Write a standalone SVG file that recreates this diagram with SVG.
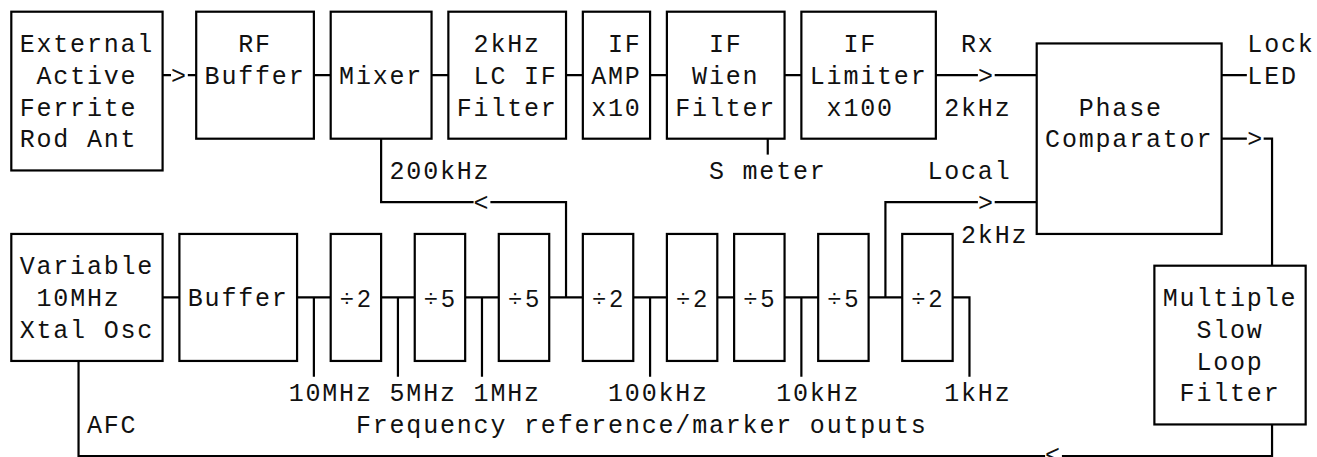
<svg xmlns="http://www.w3.org/2000/svg" width="1317" height="457" viewBox="0 0 1317 457">
<style>
.box{fill:#fff;stroke:#000;stroke-width:2.2}
.ln{fill:none;stroke:#000;stroke-width:2.2}
.t{font-family:"Liberation Mono","DejaVu Sans Mono",monospace;font-size:25px;letter-spacing:1.81px;fill:#111}
.d{font-family:"Liberation Sans","DejaVu Sans",sans-serif;font-size:24px;fill:#111}
</style>
<rect width="1317" height="457" fill="#fff"/>
<g id="connectors">
<path class="ln" d="M162.59 75.2H171 M187.81 75.2H196.21 M313.88 75.2H330.69 M431.55 75.2H448.36 M566.03 75.2H582.84 M650.08 75.2H666.89 M784.56 75.2H801.37 M935.85 75.2H977.88 M994.69 75.2H1036.71 M1221.62 75.2H1246.84"/>
<path class="ln" d="M1221.62 138.7H1246.84 M1263.65 138.7H1272.05V265.7"/>
<path class="ln" d="M767.75 138.7V154.6"/>
<path class="ln" d="M381.12 138.7V202.2H473.58 M490.39 202.2H566.03V297.45"/>
<path class="ln" d="M162.59 297.45H179.4 M297.07 297.45H330.69 M381.12 297.45H414.74 M465.17 297.45H498.79 M549.22 297.45H582.84 M633.27 297.45H666.89 M717.32 297.45H734.13 M784.56 297.45H818.18 M868.61 297.45H902.23 M952.66 297.45H969.47V376.8"/>
<path class="ln" d="M313.88 297.45V376.8 M397.93 297.45V376.8 M481.98 297.45V376.8 M650.08 297.45V376.8 M801.37 297.45V376.8"/>
<path class="ln" d="M885.42 297.45V202.2H977.88 M994.69 202.2H1036.71"/>
<path class="ln" d="M1272.05 424.45V456.2H1061.92 M1045.11 456.2H78.54V360.95"/>
<text class="t" x="171" y="83.8">&gt;</text>
<text class="t" x="977.88" y="83.8">&gt;</text>
<text class="t" x="1247.33" y="147.3">&gt;</text>
<text class="t" x="473.58" y="210.8">&lt;</text>
<text class="t" x="977.88" y="210.8">&gt;</text>
<text class="t" x="1045.11" y="462.5">&lt;</text>
</g>
<g id="ant">
<rect class="box" x="11.3" y="11.7" width="151.29" height="158.75"/>
<text class="t" x="19.7" y="52.05">External</text>
<text class="t" x="36.52" y="83.8">Active</text>
<text class="t" x="19.7" y="115.55">Ferrite</text>
<text class="t" x="19.7" y="147.3">Rod Ant</text>
</g>
<g id="rfbuf">
<rect class="box" x="196.21" y="11.7" width="117.67" height="127"/>
<text class="t" x="238.24" y="52.05">RF</text>
<text class="t" x="204.62" y="83.8">Buffer</text>
</g>
<g id="mixer">
<rect class="box" x="330.69" y="11.7" width="100.86" height="127"/>
<text class="t" x="339.1" y="83.8">Mixer</text>
</g>
<g id="lcfilter">
<rect class="box" x="448.36" y="11.7" width="117.67" height="127"/>
<text class="t" x="473.58" y="52.05">2kHz</text>
<text class="t" x="473.58" y="83.8">LC IF</text>
<text class="t" x="456.77" y="115.55">Filter</text>
</g>
<g id="ifamp">
<rect class="box" x="582.84" y="11.7" width="67.24" height="127"/>
<text class="t" x="608.06" y="52.05">IF</text>
<text class="t" x="591.25" y="83.8">AMP</text>
<text class="t" x="591.25" y="115.55">x10</text>
</g>
<g id="wien">
<rect class="box" x="666.89" y="11.7" width="117.67" height="127"/>
<text class="t" x="708.92" y="52.05">IF</text>
<text class="t" x="692.11" y="83.8">Wien</text>
<text class="t" x="675.3" y="115.55">Filter</text>
</g>
<g id="limiter">
<rect class="box" x="801.37" y="11.7" width="134.48" height="127"/>
<text class="t" x="843.4" y="52.05">IF</text>
<text class="t" x="809.78" y="83.8">Limiter</text>
<text class="t" x="826.59" y="115.55">x100</text>
</g>
<g id="phase">
<rect class="box" x="1036.71" y="43.45" width="184.91" height="190.5"/>
<text class="t" x="1078.73" y="115.55">Phase</text>
<text class="t" x="1045.11" y="147.3">Comparator</text>
</g>
<g id="vxo">
<rect class="box" x="11.3" y="233.95" width="151.29" height="127"/>
<text class="t" x="19.7" y="274.3">Variable</text>
<text class="t" x="36.52" y="306.05">10MHz</text>
<text class="t" x="19.7" y="337.8">Xtal Osc</text>
</g>
<g id="buffer">
<rect class="box" x="179.4" y="233.95" width="117.67" height="127"/>
<text class="t" x="187.81" y="306.05">Buffer</text>
</g>
<g id="div1">
<rect class="box" x="330.69" y="233.95" width="50.43" height="127"/>
<text class="d" y="306.6"><tspan x="340.3">÷</tspan><tspan x="357.3">2</tspan></text>
</g>
<g id="div2">
<rect class="box" x="414.74" y="233.95" width="50.43" height="127"/>
<text class="d" y="306.6"><tspan x="424.35">÷</tspan><tspan x="441.35">5</tspan></text>
</g>
<g id="div3">
<rect class="box" x="498.79" y="233.95" width="50.43" height="127"/>
<text class="d" y="306.6"><tspan x="508.4">÷</tspan><tspan x="525.4">5</tspan></text>
</g>
<g id="div4">
<rect class="box" x="582.84" y="233.95" width="50.43" height="127"/>
<text class="d" y="306.6"><tspan x="592.45">÷</tspan><tspan x="609.45">2</tspan></text>
</g>
<g id="div5">
<rect class="box" x="666.89" y="233.95" width="50.43" height="127"/>
<text class="d" y="306.6"><tspan x="676.5">÷</tspan><tspan x="693.5">2</tspan></text>
</g>
<g id="div6">
<rect class="box" x="734.13" y="233.95" width="50.43" height="127"/>
<text class="d" y="306.6"><tspan x="743.74">÷</tspan><tspan x="760.74">5</tspan></text>
</g>
<g id="div7">
<rect class="box" x="818.18" y="233.95" width="50.43" height="127"/>
<text class="d" y="306.6"><tspan x="827.79">÷</tspan><tspan x="844.79">5</tspan></text>
</g>
<g id="div8">
<rect class="box" x="902.23" y="233.95" width="50.43" height="127"/>
<text class="d" y="306.6"><tspan x="911.84">÷</tspan><tspan x="928.84">2</tspan></text>
</g>
<g id="loopfilter">
<rect class="box" x="1154.38" y="265.7" width="151.29" height="158.75"/>
<text class="t" x="1162.78" y="306.05">Multiple</text>
<text class="t" x="1196.4" y="337.8">Slow</text>
<text class="t" x="1196.4" y="369.55">Loop</text>
<text class="t" x="1179.59" y="401.3">Filter</text>
</g>
<g id="labels">
<text class="t" x="961.07" y="52.05">Rx</text>
<text class="t" x="944.26" y="115.55">2kHz</text>
<text class="t" x="1247.33" y="52.05">Lock</text>
<text class="t" x="1247.33" y="83.8">LED</text>
<text class="t" x="389.53" y="179.05">200kHz</text>
<text class="t" x="708.92" y="179.05">S meter</text>
<text class="t" x="927.45" y="179.05">Local</text>
<text class="t" x="961.07" y="242.55">2kHz</text>
<text class="t" x="288.67" y="401.3">10MHz</text>
<text class="t" x="389.53" y="401.3">5MHz</text>
<text class="t" x="473.58" y="401.3">1MHz</text>
<text class="t" x="608.06" y="401.3">100kHz</text>
<text class="t" x="776.16" y="401.3">10kHz</text>
<text class="t" x="944.26" y="401.3">1kHz</text>
<text class="t" x="86.95" y="433.05">AFC</text>
<text class="t" x="355.91" y="433.05">Frequency reference/marker outputs</text>
</g>
</svg>
